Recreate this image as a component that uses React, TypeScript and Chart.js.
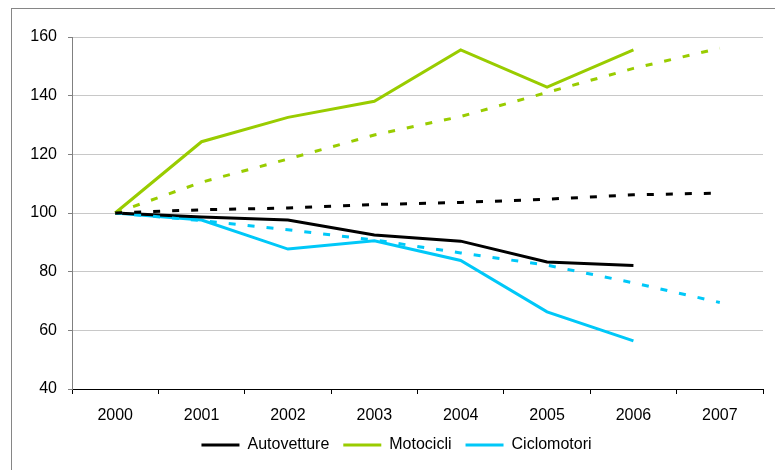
import React, { useEffect, useRef } from "react";
import { Chart, registerables } from "chart.js";

Chart.register(...registerables);

// Years on the category axis
const years = ["2000", "2001", "2002", "2003", "2004", "2005", "2006", "2007"];

// Index values (2000 = 100), observed series
const autovetture = [100, 98.6, 97.6, 92.5, 90.4, 83.3, 82.1, null];
const motocicli = [100, 124.3, 132.6, 138.1, 155.6, 142.9, 155.6, null];
const ciclomotori = [100, 97.6, 87.7, 90.5, 83.8, 66.3, 56.4, null];

// Trend lines for each series
const autovettureTrend = [100, 101.1, 101.7, 102.9, 103.6, 104.7, 106.2, 106.8];
const motocicliTrend = [100, 110.5, 118.4, 126.6, 132.9, 141.1, 149.3, 156.2];
const ciclomotoriTrend = [100, 97.4, 94.3, 90.8, 86.4, 82.2, 76.2, 69.5];

// Y axis range
const yMin = 40;
const yMax = 160;
const yStep = 20;

const BLACK = "#000000";
const GREEN = "#99cc00";
const CYAN = "#00c8f8";
const DASH = [7, 12];
const FONT = "'Liberation Sans', Arial, sans-serif";

export default function App() {
  const canvasRef = useRef<HTMLCanvasElement | null>(null);

  useEffect(() => {
    const canvas = canvasRef.current;
    if (!canvas) return;

    const solid = (label: string, data: (number | null)[], color: string) => ({
      label,
      data,
      borderColor: color,
      backgroundColor: color,
      borderWidth: 3,
      pointRadius: 0,
      pointHoverRadius: 0,
      tension: 0,
      spanGaps: false,
      pointStyle: "line" as const,
    });
    const dashed = (label: string, data: (number | null)[], color: string) => ({
      ...solid(label, data, color),
      borderDash: DASH,
    });

    const chart = new Chart(canvas, {
      type: "line",
      data: {
        labels: years,
        datasets: [
          dashed("trend-auto", autovettureTrend, BLACK),
          dashed("trend-moto", motocicliTrend, GREEN),
          dashed("trend-ciclo", ciclomotoriTrend, CYAN),
          solid("Autovetture", autovetture, BLACK),
          solid("Motocicli", motocicli, GREEN),
          solid("Ciclomotori", ciclomotori, CYAN),
        ],
      },
      options: {
        animation: false,
        responsive: false,
        maintainAspectRatio: false,
        devicePixelRatio: 1,
        layout: { padding: { left: 30, right: 12, top: 37, bottom: 7 } },
        font: { family: FONT, size: 16 },
        plugins: {
          tooltip: { enabled: false },
          title: { display: false },
          legend: {
            position: "bottom",
            labels: {
              filter: (item) => !String(item.text).startsWith("trend"),
              usePointStyle: true,
              pointStyleWidth: 38,
              boxWidth: 38,
              boxHeight: 16,
              padding: 14,
              color: "#000",
              font: { family: FONT, size: 16 },
            },
          },
        },
        scales: {
          x: {
            type: "category",
            offset: true,
            grid: {
              offset: true,
              drawOnChartArea: false,
              drawTicks: true,
              tickLength: 5,
              color: "#000",
            },
            border: { color: "#000", width: 1 },
            ticks: {
              color: "#000",
              padding: 12,
              maxRotation: 0,
              font: { family: FONT, size: 16 },
            },
            afterFit: (s: any) => {
              s.height = 34;
            },
          },
          y: {
            min: yMin,
            max: yMax,
            grid: {
              color: (ctx: any) => (ctx.tick && ctx.tick.value === yMin ? "rgba(0,0,0,0)" : "#c8c8c8"),
              tickColor: "#808080",
              tickLength: 4,
              lineWidth: 1,
            },
            border: { color: "#808080", width: 1 },
            ticks: {
              stepSize: yStep,
              color: "#000",
              padding: 11,
              font: { family: FONT, size: 16 },
            },
            afterFit: (s: any) => {
              s.width = 42;
            },
          },
        },
      },
    });

    return () => chart.destroy();
  }, []);

  return (
    <>
      <div
        style={{
          position: "fixed",
          left: 11,
          top: 8,
          width: 900,
          height: 600,
          borderLeft: "1px solid #868686",
          borderTop: "1px solid #868686",
          boxSizing: "border-box",
        }}
      />
      <canvas
        ref={canvasRef}
        width={775}
        height={470}
        style={{ position: "fixed", left: 0, top: 0, width: 775, height: 470 }}
      />
    </>
  );
}
